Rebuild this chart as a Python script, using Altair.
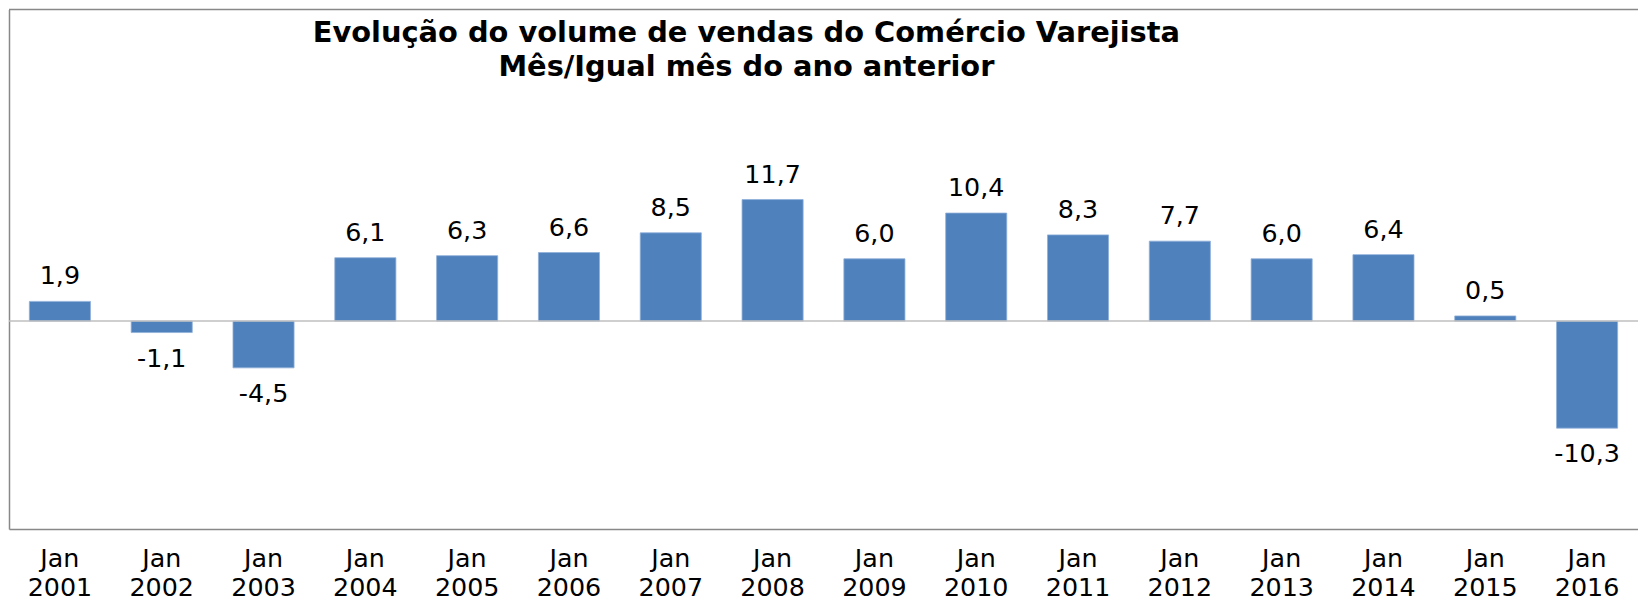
import altair as alt
import pandas as pd

anos = [2001, 2002, 2003, 2004, 2005, 2006, 2007, 2008,
        2009, 2010, 2011, 2012, 2013, 2014, 2015, 2016]
categorias = [f"Jan {a}" for a in anos]
variacao = [1.9, -1.1, -4.5, 6.1, 6.3, 6.6, 8.5, 11.7,
            6.0, 10.4, 8.3, 7.7, 6.0, 6.4, 0.5, -10.3]
titulo = ["Evolução do volume de vendas do Comércio Varejista",
          "Mês/Igual mês do ano anterior"]

W, H = 1637, 522

df = pd.DataFrame({"cat": categorias, "v": variacao})

x_enc = alt.X("cat:N", sort=categorias,
              scale=alt.Scale(paddingInner=0.4, paddingOuter=0.2),
              axis=alt.Axis(title=None, labelAngle=0, ticks=False,
                            labelExpr="split(datum.label, ' ')",
                            labelFont="DejaVu Sans", labelFontSize=25.5,
                            labelColor="#000000", labelLineHeight=29,
                            labelPadding=18, domainColor="#888888",
                            domainWidth=1.5, grid=False))
y_scale = alt.Scale(domain=[-20, 30], nice=False, zero=True)
y_enc = alt.Y("v:Q", scale=y_scale,
              axis=alt.Axis(title=None, labels=False, ticks=False, grid=False,
                            domainColor="#888888", domainWidth=1.5))

base = alt.Chart(df)

bars = base.mark_bar(color="#4F81BD", stroke="#8fb0d9", strokeWidth=0.8).encode(
    x=x_enc, y=y_enc, y2=alt.datum(0))

lbl_calc = base.transform_calculate(
    lbl="replace(replace(format(datum.v, '.1f'), '.', ','), '\u2212', '-')")

pos_lbl = lbl_calc.transform_filter("datum.v >= 0").mark_text(
    font="DejaVu Sans", fontSize=25.5, color="#000000",
    baseline="alphabetic", dy=-17).encode(
    x=alt.X("cat:N", sort=categorias), y=alt.Y("v:Q", scale=y_scale), text="lbl:N")

neg_lbl = lbl_calc.transform_filter("datum.v < 0").mark_text(
    font="DejaVu Sans", fontSize=25.5, color="#000000",
    baseline="alphabetic", dy=34.5).encode(
    x=alt.X("cat:N", sort=categorias), y=alt.Y("v:Q", scale=y_scale), text="lbl:N")

zero_rule = alt.Chart(pd.DataFrame({"z": [0]})).mark_rule(
    color="#bfbfbf", strokeWidth=1.5).encode(
    y=alt.Y("z:Q", scale=y_scale), x=alt.value(0), x2=alt.value(W))

top_rule = alt.Chart(pd.DataFrame({"t": [30]})).mark_rule(
    color="#888888", strokeWidth=1.5).encode(
    y=alt.Y("t:Q", scale=y_scale), x=alt.value(0), x2=alt.value(W))

title_txt = alt.Chart(pd.DataFrame({"k": [0]})).mark_text(
    text=titulo, font="DejaVu Sans", fontWeight="bold", fontSize=29,
    color="#000000", align="center", baseline="alphabetic", lineHeight=34).encode(
    x=alt.value(741), y=alt.value(33))

chart = alt.layer(bars, zero_rule, top_rule, pos_lbl, neg_lbl, title_txt).properties(
    width=W, height=H,
    autosize=alt.AutoSizeParams(type="none"),
    padding={"left": 1, "top": 0, "right": 0, "bottom": 72},
    background="white",
).configure_view(stroke=None)

chart.save("out.html", embed_options={"renderer": "svg", "actions": False})
